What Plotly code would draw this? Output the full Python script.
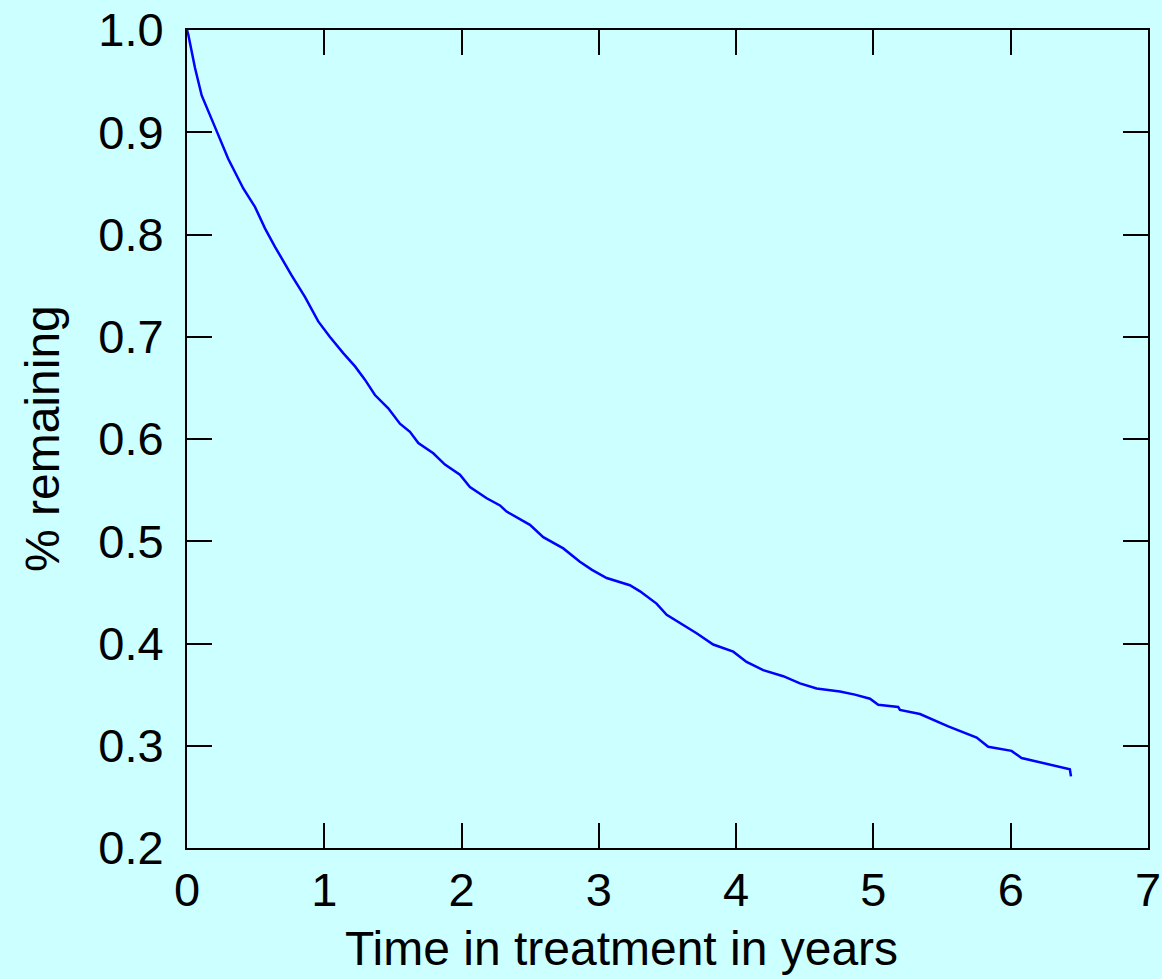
import plotly.graph_objects as go

# Time in treatment (years) and fraction remaining
years = [0.0, 0.01, 0.058, 0.107, 0.204, 0.30, 0.41, 0.495, 0.568, 0.641, 0.762, 0.859, 0.956,
         1.04, 1.138, 1.224, 1.296, 1.369, 1.466, 1.551, 1.624, 1.685, 1.794, 1.879, 1.988,
         2.061, 2.183, 2.28, 2.328, 2.498, 2.595, 2.741, 2.862, 2.95, 3.057, 3.226, 3.30,
         3.42, 3.494, 3.59, 3.712, 3.833, 3.979, 4.076, 4.197, 4.343, 4.465, 4.586, 4.756,
         4.865, 4.975, 5.035, 5.18, 5.193, 5.339, 5.545, 5.679, 5.752, 5.836, 6.006, 6.079,
         6.431, 6.439]
remaining = [1.0, 0.995, 0.963, 0.936, 0.905, 0.874, 0.845, 0.827, 0.806, 0.788, 0.760, 0.739, 0.715,
             0.700, 0.684, 0.671, 0.658, 0.643, 0.630, 0.615, 0.607, 0.596, 0.586, 0.575, 0.565,
             0.553, 0.542, 0.535, 0.529, 0.516, 0.504, 0.493, 0.480, 0.472, 0.464, 0.457, 0.451,
             0.439, 0.428, 0.420, 0.410, 0.399, 0.392, 0.382, 0.374, 0.368, 0.361, 0.356, 0.353,
             0.350, 0.346, 0.340, 0.338, 0.335, 0.331, 0.319, 0.312, 0.308, 0.299, 0.295, 0.288,
             0.277, 0.270]

x_ticks = [0, 1, 2, 3, 4, 5, 6, 7]
y_ticks = [0.2, 0.3, 0.4, 0.5, 0.6, 0.7, 0.8, 0.9, 1.0]
y_tick_text = ["0.2", "0.3", "0.4", "0.5", "0.6", "0.7", "0.8", "0.9", "1.0"]

bg = "#CCFFFF"
font_family = "Liberation Sans, Arial, Helvetica, sans-serif"

fig = go.Figure()
fig.add_trace(go.Scatter(x=years, y=remaining, mode="lines",
                         line=dict(color="#0000FF", width=2.5), showlegend=False,
                         hoverinfo="skip"))

axis_common = dict(showgrid=False, zeroline=False, showline=True, linecolor="black",
                   linewidth=2, mirror="allticks", ticks="inside", ticklen=25,
                   tickwidth=2, tickcolor="black", automargin=False,
                   tickfont=dict(family=font_family, size=47, color="black"))

fig.update_xaxes(range=[0, 7], tickvals=x_ticks, ticktext=[str(v) for v in x_ticks],
                 ticklabelstandoff=0, **axis_common)
fig.update_yaxes(range=[0.2, 1.0], tickvals=y_ticks, ticktext=y_tick_text,
                 ticklabelstandoff=12, **axis_common)

fig.update_layout(
    width=1162, height=979,
    margin=dict(l=187, r=14, t=30, b=131, autoexpand=False),
    paper_bgcolor=bg, plot_bgcolor=bg,
    font=dict(family=font_family, color="black"),
    annotations=[
        dict(text="Time in treatment in years", xref="paper", yref="paper",
             x=(621 - 187) / (1148 - 187), y=-(948 - 848) / (848 - 30),
             xanchor="center", yanchor="middle", showarrow=False,
             font=dict(size=48, family=font_family, color="black")),
        dict(text="% remaining", xref="paper", yref="paper",
             x=-(187 - 42) / (1148 - 187), y=0.5, textangle=-90,
             xanchor="center", yanchor="middle", showarrow=False,
             font=dict(size=48, family=font_family, color="black")),
    ],
)

fig.write_html("out.html", config={"displayModeBar": False})

# remove the browser's default page margin so the figure fills the window
with open("out.html", "r", encoding="utf-8") as f:
    html = f.read()
html = html.replace("<head>", "<head><style>html,body{margin:0;padding:0;overflow:hidden;}</style>", 1)
with open("out.html", "w", encoding="utf-8") as f:
    f.write(html)
